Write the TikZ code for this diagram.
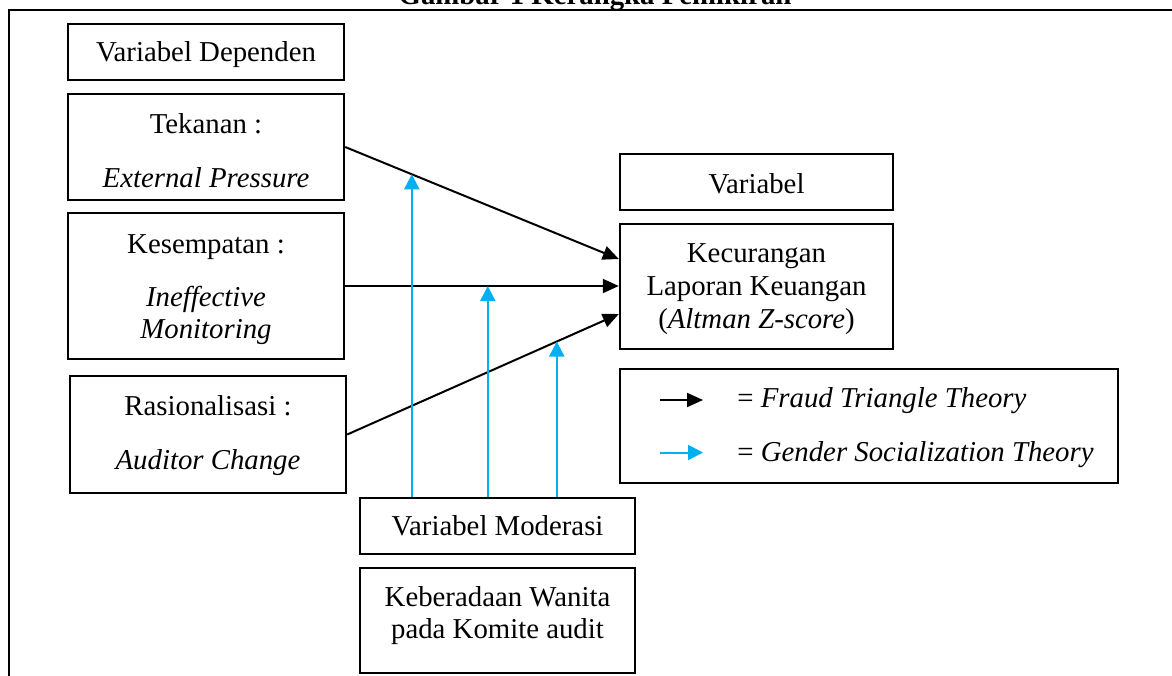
\documentclass[tikz,border=0pt]{standalone}
\usepackage{fontspec}
\setmainfont{Liberation Serif}
\usetikzlibrary{arrows.meta,calc,intersections}
\definecolor{skyblue}{HTML}{00B0F0}
\begin{document}
\begin{tikzpicture}[x=0.5pt,y=-0.5pt,
 box/.style={draw,line width=1.2pt,minimum width=138pt,inner sep=0pt},
 conn/.style={line width=1pt,-{Triangle[length=8pt,width=7pt]}},
 modarrow/.style={line width=1pt,draw=skyblue,-{Triangle[length=7.5pt,width=7.5pt]}},
 lbl/.style={inner sep=0pt,anchor=base,font=\fontsize{14.4}{16.5}\selectfont}
]
\useasboundingbox (0,0) rectangle (1172,675);
\clip (0,0) rectangle (1172,675);
% outer frame and cut title
\draw[line width=1.2pt] (9,700) -- (9,10) -- (1200,10);
\node[lbl,font=\bfseries\fontsize{14.4}{16.5}\selectfont] (title) at (595,4) {Gambar 1 Kerangka Pemikiran};

% left boxes
\node[box,minimum height=28pt] (dep) at (206,52) {};
\node[lbl] (depT) at (206,61.5) {Variabel Dependen};
\node[box,minimum height=53pt] (tek) at (206,147) {};
\node[lbl] (tekA) at (206,133.3) {Tekanan :};
\node[lbl] (tekB) at (206,187.3) {\itshape External Pressure};
\node[box,minimum height=73pt] (kes) at (206,286) {};
\node[lbl] (kesA) at (206,253.3) {Kesempatan :};
\node[lbl] (kesB) at (206,306.7) {\itshape Ineffective};
\node[lbl] (kesC) at (206,338.5) {\itshape Monitoring};
\node[box,minimum height=58.5pt] (ras) at (208,434.5) {};
\node[lbl] (rasA) at (208,415) {Rasionalisasi :};
\node[lbl] (rasB) at (208,469) {\itshape Auditor Change};

% right boxes
\node[box,minimum width=136.5pt,minimum height=28pt] (var) at (756.5,182) {};
\node[lbl] (varT) at (756.5,193.3) {Variabel};
\node[box,minimum width=136.5pt,minimum height=62.5pt] (kec) at (756.5,286.5) {};
\node[lbl] (kecA) at (756.5,262.7) {Kecurangan};
\node[lbl] (kecB) at (756.5,295.4) {Laporan Keuangan};
\node[lbl] (kecC) at (756.5,328.3) {(\textit{Altman Z-score})};

% legend
\node[box,minimum width=249pt,minimum height=57pt] (leg) at (869,426) {};
\coordinate (la1) at (660,400);
\coordinate (lb1) at (703,400);
\coordinate (la2) at (660,452.5);
\coordinate (lb2) at (703,452.5);
\draw[conn] (la1) -- (lb1);
\draw[modarrow] (la2) -- (lb2);
\node[lbl,anchor=base west] (lt1) at (737,407) {= \textit{Fraud Triangle Theory}};
\node[lbl,anchor=base west] (lt2) at (737,461) {= \textit{Gender Socialization Theory}};

% moderation boxes
\node[box,minimum width=137.5pt,minimum height=28pt] (mod) at (497.5,526) {};
\node[lbl] (modT) at (497.5,535.7) {Variabel Moderasi};
\node[box,minimum width=137.5pt,minimum height=52.5pt] (keb) at (497.5,620.5) {};
\node[lbl] (kebA) at (497.5,606.7) {Keberadaan Wanita};
\node[lbl] (kebB) at (497.5,638.5) {pada Komite audit};

% black connectors
\coordinate (k1) at ($(kec.west)+(0,-27.5)$);
\coordinate (k2) at (kes.east -| kec.west);
\coordinate (k3) at ($(kec.west)+(0,27.5)$);
\draw[conn,name path=l1] (tek.east) -- (k1);
\draw[conn,name path=l2] (kes.east) -- (k2);
\draw[conn,name path=l3] (ras.east) -- (k3);

% blue moderation arrows
\coordinate (m1) at ($(mod.north west)+(53,0)$);
\coordinate (m2) at ($(mod.north west)+(129,0)$);
\coordinate (m3) at ($(mod.north west)+(198,0)$);
\path[name path=v1] (m1) -- ++(0,-400);
\path[name path=v2] (m2) -- ++(0,-400);
\path[name path=v3] (m3) -- ++(0,-400);
\path[name intersections={of=v1 and l1,by=t1}];
\path[name intersections={of=v2 and l2,by=t2}];
\path[name intersections={of=v3 and l3,by=t3}];
\draw[modarrow] (m1) -- (t1);
\draw[modarrow] (m2) -- (t2);
\draw[modarrow] (m3) -- (t3);
\end{tikzpicture}
\end{document}
